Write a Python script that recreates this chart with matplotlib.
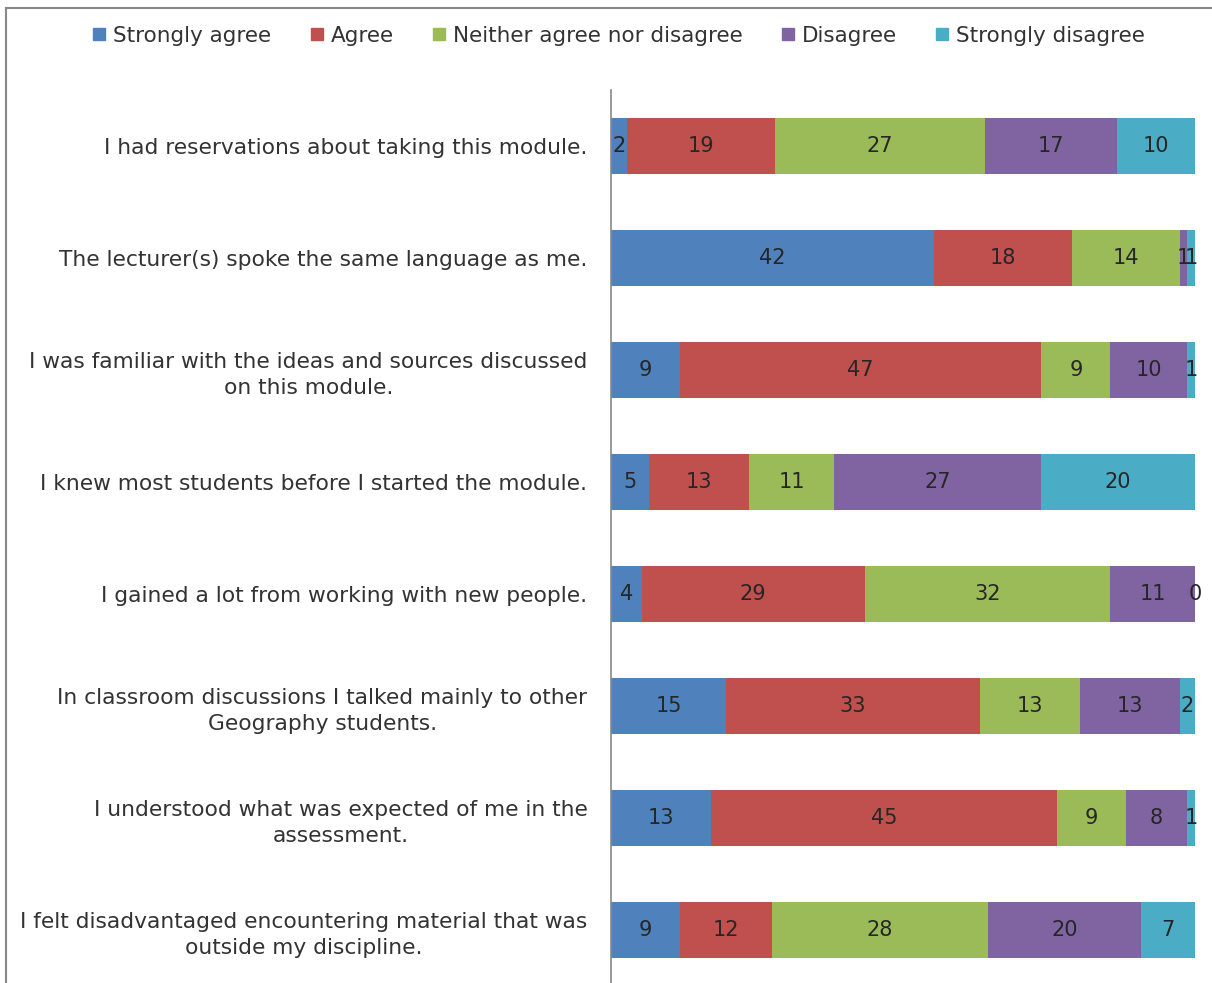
import numpy as np
import matplotlib.pyplot as plt
from matplotlib.lines import Line2D

questions = [
    "I had reservations about taking this module.",
    "The lecturer(s) spoke the same language as me.",
    "I was familiar with the ideas and sources discussed\non this module.",
    "I knew most students before I started the module.",
    "I gained a lot from working with new people.",
    "In classroom discussions I talked mainly to other\nGeography students.",
    "I understood what was expected of me in the\nassessment.",
    "I felt disadvantaged encountering material that was\noutside my discipline.",
]
categories = ["Strongly agree", "Agree", "Neither agree nor disagree", "Disagree", "Strongly disagree"]
strongly_agree = [2, 42, 9, 5, 4, 15, 13, 9]
agree = [19, 18, 47, 13, 29, 33, 45, 12]
neither = [27, 14, 9, 11, 32, 13, 9, 28]
disagree = [17, 1, 10, 27, 11, 13, 8, 20]
strongly_disagree = [10, 1, 1, 20, 0, 2, 1, 7]
colors = ["#4F81BD", "#C0504D", "#9BBB59", "#8064A2", "#4BACC6"]

plt.rcParams['font.family'] = ['DejaVu Sans']

data = np.array([strongly_agree, agree, neither, disagree, strongly_disagree], dtype=float)
totals = data.sum(axis=0)
shares = data / totals

W, H = 1212, 983
fig = plt.figure(figsize=(W / 100, H / 100), dpi=100)
ax = fig.add_axes([611 / W, (H - 986) / H, (1195 - 611) / W, 896 / H])

y = np.arange(len(questions))
left = np.zeros(len(questions))
handles = []
for k, cat in enumerate(categories):
    ax.barh(y, shares[k], left=left, height=0.5, color=colors[k], label=cat)
    for i in range(len(questions)):
        ax.text(left[i] + shares[k][i] / 2, y[i], str(int(data[k][i])),
                ha='center', va='center', fontsize=15, color='#262626')
    left += shares[k]
    handles.append(Line2D([], [], marker='s', linestyle='none', markersize=8,
                          markerfacecolor=colors[k], markeredgecolor=colors[k]))

ax.set_xlim(0, 1)
ax.set_ylim(len(questions) - 0.5, -0.5)
ax.set_yticks(y)
ax.set_yticklabels(questions, fontsize=15.7, color='#333333', multialignment='center',
                   linespacing=1.35)
ax.tick_params(axis='y', length=0, pad=17)
ax.tick_params(axis='x', bottom=False, labelbottom=False)
for s in ['top', 'right', 'bottom']:
    ax.spines[s].set_visible(False)
ax.spines['left'].set_color('#888888')
ax.spines['left'].set_linewidth(1.2)

fig.legend(handles, categories, loc='center', bbox_to_anchor=(618 / W, 1 - 36 / H),
           ncol=5, frameon=False, fontsize=15.5, handletextpad=0.25, handlelength=0.8,
           columnspacing=1.7, labelcolor='#333333')

# outer chart frame
fig.add_artist(Line2D([6 / W, 6 / W], [0, 1 - 8 / H], color='#888888', lw=1.5))
fig.add_artist(Line2D([6 / W, 1], [1 - 8 / H, 1 - 8 / H], color='#888888', lw=1.5))

fig.savefig('out.png', dpi=100)
